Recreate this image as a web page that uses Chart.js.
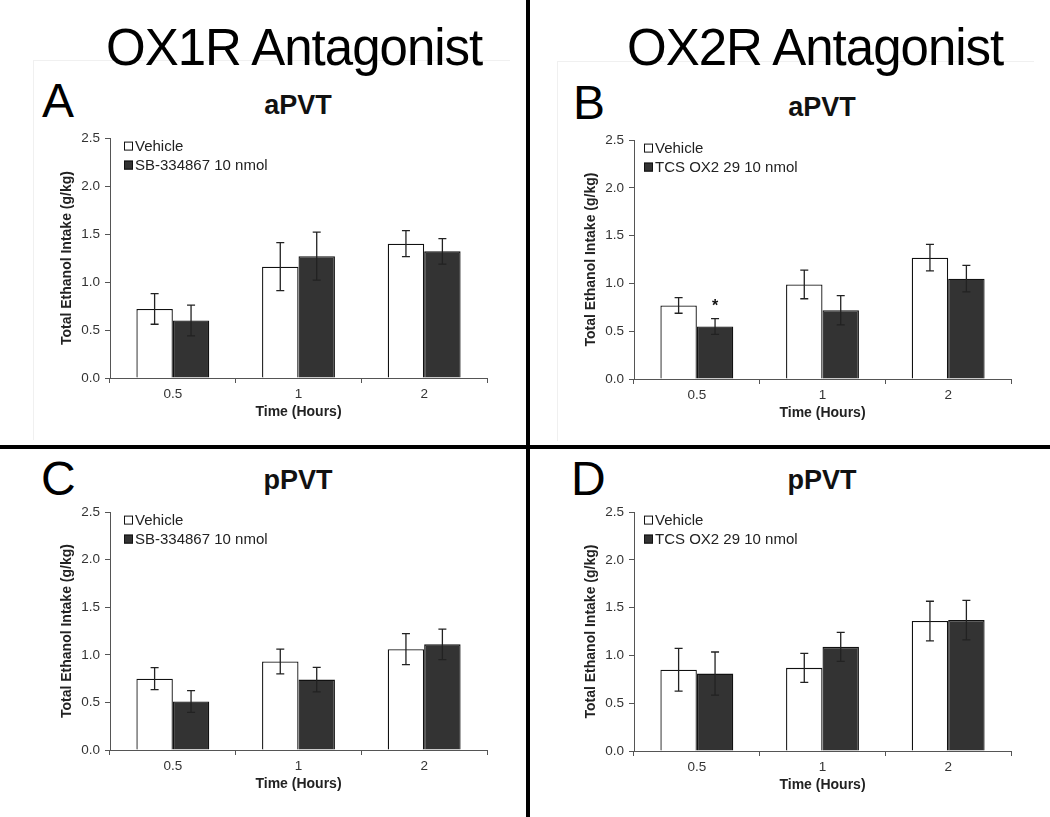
<!DOCTYPE html>
<html>
<head>
<meta charset="utf-8">
<script src="https://cdn.jsdelivr.net/npm/chart.js@4.4.0/dist/chart.umd.min.js"></script>
<style>
  body { margin: 0; background: #fff; width: 1050px; height: 817px; overflow: hidden; position: relative;
         font-family: 'Liberation Sans', Arial, sans-serif; }
  .big { position: absolute; font-size: 51px; line-height: 51px; letter-spacing: -1px; color: #000; white-space: nowrap; }
  .letter { position: absolute; font-size: 48px; line-height: 48px; color: #000; }
  .sub { position: absolute; width: 200px; text-align: center; font-size: 27px; line-height: 27px; font-weight: bold; color: #111; }
  .rule { position: absolute; background: #000; }
  .faint { position: absolute; background: #f0f0f0; }
  canvas { position: absolute; }
</style>
</head>
<body>

<div class="faint" style="left:33px;top:60px;width:477px;height:1px"></div>
<div class="faint" style="left:33px;top:60px;width:1px;height:380px"></div>
<div class="faint" style="left:557px;top:61px;width:477px;height:1px"></div>
<div class="faint" style="left:557px;top:61px;width:1px;height:380px"></div>

<div class="big" style="left:106px;top:22px">OX1R Antagonist</div>
<div class="big" style="left:627px;top:22px">OX2R Antagonist</div>

<div class="letter" style="left:42px;top:77px">A</div>
<div class="letter" style="left:573px;top:79px">B</div>
<div class="letter" style="left:41px;top:455px">C</div>
<div class="letter" style="left:571px;top:455px">D</div>

<div class="sub" style="left:198px;top:92px">aPVT</div>
<div class="sub" style="left:722px;top:94px">aPVT</div>
<div class="sub" style="left:198px;top:467px">pPVT</div>
<div class="sub" style="left:722px;top:467px">pPVT</div>

<canvas id="chartA" width="452" height="305" style="left:50px;top:125px"></canvas>
<canvas id="chartB" width="452" height="304" style="left:574px;top:127px"></canvas>
<canvas id="chartC" width="452" height="303" style="left:50px;top:499px"></canvas>
<canvas id="chartD" width="452" height="304" style="left:574px;top:499px"></canvas>

<div class="rule" style="left:0;top:445px;width:1050px;height:4px"></div>
<div class="rule" style="left:526px;top:0;width:4px;height:817px"></div>

<script>
// x categories (hours)
var timeLabels = ['0.5', '1', '2'];

// panel A - aPVT, SB-334867
var vehA = [0.72, 1.16, 1.40];
var vehA_sem = [0.16, 0.25, 0.135];
var sbA = [0.60, 1.27, 1.32];
var sbA_sem = [0.16, 0.25, 0.133];

// panel B - aPVT, TCS OX2 29
var vehB = [0.77, 0.99, 1.27];
var vehB_sem = [0.082, 0.15, 0.138];
var tcsB = [0.55, 0.72, 1.05];
var tcsB_sem = [0.082, 0.153, 0.139];

// panel C - pPVT, SB-334867
var vehC = [0.75, 0.93, 1.06];
var vehC_sem = [0.115, 0.13, 0.162];
var sbC = [0.51, 0.74, 1.11];
var sbC_sem = [0.114, 0.129, 0.16];

// panel D - pPVT, TCS OX2 29
var vehD = [0.85, 0.87, 1.36];
var vehD_sem = [0.223, 0.152, 0.207];
var tcsD = [0.81, 1.09, 1.37];
var tcsD_sem = [0.226, 0.152, 0.207];

// significance marks: [dataset index, category index]
var starsB = [[1, 0]];

Chart.defaults.font.family = "'Liberation Sans', Arial, sans-serif";
Chart.defaults.color = '#333';

// error bars, legend box and asterisks
var extrasPlugin = {
  id: 'extras',
  afterDatasetsDraw: function(chart, args, opts) {
    var ctx = chart.ctx;
    var y = chart.scales.y;
    ctx.save();
    ctx.strokeStyle = '#222';
    ctx.lineWidth = 1.3;
    chart.data.datasets.forEach(function(ds, di) {
      var meta = chart.getDatasetMeta(di);
      meta.data.forEach(function(bar, i) {
        var hi = y.getPixelForValue(ds.data[i] + ds.sem[i]);
        var lo = y.getPixelForValue(ds.data[i] - ds.sem[i]);
        ctx.beginPath();
        ctx.moveTo(bar.x, hi); ctx.lineTo(bar.x, lo);
        ctx.moveTo(bar.x - 4, hi); ctx.lineTo(bar.x + 4, hi);
        ctx.moveTo(bar.x - 4, lo); ctx.lineTo(bar.x + 4, lo);
        ctx.stroke();
      });
    });

    // asterisks
    ctx.fillStyle = '#111';
    ctx.font = 'bold 16px "Liberation Sans", Arial, sans-serif';
    ctx.textAlign = 'center';
    ctx.textBaseline = 'alphabetic';
    (opts.stars || []).forEach(function(s) {
      var ds = chart.data.datasets[s[0]];
      var bar = chart.getDatasetMeta(s[0]).data[s[1]];
      var top = y.getPixelForValue(ds.data[s[1]] + ds.sem[s[1]]);
      ctx.fillText('*', bar.x, top - 8);
    });

    // legend inside plot area
    var area = chart.chartArea;
    ctx.font = '15px "Liberation Sans", Arial, sans-serif';
    ctx.textAlign = 'left';
    ctx.textBaseline = 'middle';
    chart.data.datasets.forEach(function(ds, di) {
      var bx = area.left + opts.dx;
      var cy = area.top + (di === 0 ? 8 : 27);
      ctx.fillStyle = ds.backgroundColor;
      ctx.fillRect(bx, cy - 4.5, 9, 9);
      ctx.strokeStyle = '#111';
      ctx.lineWidth = 1;
      ctx.strokeRect(bx + 0.5, cy - 4, 8, 8);
      ctx.fillStyle = '#222';
      ctx.fillText(ds.label, bx + 11, cy + 1);
    });
    ctx.restore();
  }
};

function makePanel(id, veh, vehSem, drug, drugSem, drugLabel, dx, stars) {
  return new Chart(document.getElementById(id), {
    type: 'bar',
    data: {
      labels: timeLabels,
      datasets: [{
        label: 'Vehicle',
        data: veh,
        sem: vehSem,
        backgroundColor: '#ffffff',
        borderColor: '#111',
        borderWidth: 1.3
      }, {
        label: drugLabel,
        data: drug,
        sem: drugSem,
        backgroundColor: '#333333',
        borderColor: '#111',
        borderWidth: 1.3
      }]
    },
    options: {
      responsive: false,
      animation: false,
      layout: { padding: { top: 12, right: 15, bottom: 0, left: 0 } },
      datasets: { bar: { categoryPercentage: 0.58, barPercentage: 1.0 } },
      plugins: {
        legend: { display: false },
        tooltip: { enabled: false },
        extras: { dx: dx, stars: stars }
      },
      scales: {
        x: {
          grid: { offset: true, drawOnChartArea: false, tickLength: 5, color: '#555' },
          border: { color: '#555', width: 1 },
          ticks: { padding: 3, font: { size: 13.5 }, color: '#333' },
          title: { display: true, text: 'Time (Hours)', font: { size: 14, weight: 'bold' }, color: '#222',
                   padding: { top: 0, bottom: 9 } },
          afterFit: function(scale) { scale.height = 52; }
        },
        y: {
          min: 0,
          max: 2.5,
          grid: { drawOnChartArea: false, tickLength: 5, color: '#555' },
          border: { color: '#555', width: 1 },
          ticks: { stepSize: 0.5, padding: 5, font: { size: 13.5 }, color: '#333',
                   callback: function(v) { return v.toFixed(1); } },
          title: { display: true, text: 'Total Ethanol Intake (g/kg)', font: { size: 14, weight: 'bold' }, color: '#222',
                   padding: { top: 9, bottom: 0 } },
          afterFit: function(scale) { scale.width = 60; }
        }
      }
    },
    plugins: [extrasPlugin]
  });
}

makePanel('chartA', vehA, vehA_sem, sbA, sbA_sem, 'SB-334867 10 nmol', 14, []);
makePanel('chartB', vehB, vehB_sem, tcsB, tcsB_sem, 'TCS OX2 29 10 nmol', 10, starsB);
makePanel('chartC', vehC, vehC_sem, sbC, sbC_sem, 'SB-334867 10 nmol', 14, []);
makePanel('chartD', vehD, vehD_sem, tcsD, tcsD_sem, 'TCS OX2 29 10 nmol', 10, []);
</script>
</body>
</html>
